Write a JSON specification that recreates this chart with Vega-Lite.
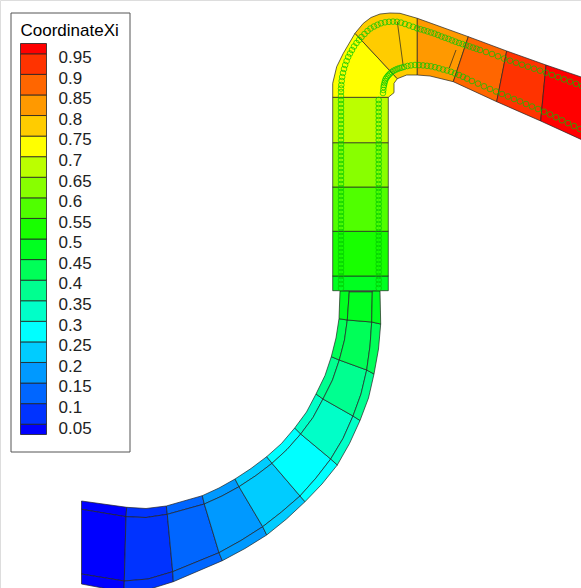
{"$schema":"https://vega.github.io/schema/vega-lite/v6.json","width":581,"height":588,"padding":0,"autosize":{"type":"none"},"background":"white","datasets":{
"cells":[
{"c":"a1","v":0.025,"k":0,"x":81.5,"y":501},{"c":"a1","v":0.025,"k":1,"x":126.7,"y":507.3},{"c":"a1","v":0.025,"k":2,"x":126,"y":516.7},{"c":"a1","v":0.025,"k":3,"x":81.5,"y":509.3},
{"c":"a2","v":0.025,"k":0,"x":81.5,"y":509.3},{"c":"a2","v":0.025,"k":1,"x":126,"y":516.7},{"c":"a2","v":0.025,"k":2,"x":124.3,"y":581},{"c":"a2","v":0.025,"k":3,"x":81.5,"y":574},
{"c":"a3","v":0.025,"k":0,"x":81.5,"y":574},{"c":"a3","v":0.025,"k":1,"x":124.3,"y":581},{"c":"a3","v":0.025,"k":2,"x":124,"y":592},{"c":"a3","v":0.025,"k":3,"x":81.5,"y":584},
{"c":"b1","v":0.075,"k":0,"x":126.7,"y":507.3},{"c":"b1","v":0.075,"k":1,"x":146,"y":508.5},{"c":"b1","v":0.075,"k":2,"x":166.3,"y":506},{"c":"b1","v":0.075,"k":3,"x":167.3,"y":514.3},{"c":"b1","v":0.075,"k":4,"x":146,"y":517.5},{"c":"b1","v":0.075,"k":5,"x":126,"y":516.7},
{"c":"b2","v":0.075,"k":0,"x":126,"y":516.7},{"c":"b2","v":0.075,"k":1,"x":146,"y":517.5},{"c":"b2","v":0.075,"k":2,"x":167.3,"y":514.3},{"c":"b2","v":0.075,"k":3,"x":172.7,"y":571.7},{"c":"b2","v":0.075,"k":4,"x":148,"y":579},{"c":"b2","v":0.075,"k":5,"x":124.3,"y":581},
{"c":"b3","v":0.075,"k":0,"x":124.3,"y":581},{"c":"b3","v":0.075,"k":1,"x":148,"y":579},{"c":"b3","v":0.075,"k":2,"x":172.7,"y":571.7},{"c":"b3","v":0.075,"k":3,"x":173.3,"y":581.7},{"c":"b3","v":0.075,"k":4,"x":150,"y":589},{"c":"b3","v":0.075,"k":5,"x":124,"y":592},
{"c":"c1","v":0.125,"k":0,"x":166.3,"y":506},{"c":"c1","v":0.125,"k":1,"x":202.3,"y":495.7},{"c":"c1","v":0.125,"k":2,"x":204.3,"y":504},{"c":"c1","v":0.125,"k":3,"x":167.3,"y":514.3},
{"c":"c2","v":0.125,"k":0,"x":167.3,"y":514.3},{"c":"c2","v":0.125,"k":1,"x":204.3,"y":504},{"c":"c2","v":0.125,"k":2,"x":219,"y":552.7},{"c":"c2","v":0.125,"k":3,"x":172.7,"y":571.7},
{"c":"c3","v":0.125,"k":0,"x":172.7,"y":571.7},{"c":"c3","v":0.125,"k":1,"x":219,"y":552.7},{"c":"c3","v":0.125,"k":2,"x":222.3,"y":560.7},{"c":"c3","v":0.125,"k":3,"x":173.3,"y":581.7},
{"c":"d1","v":0.175,"k":0,"x":202.3,"y":495.7},{"c":"d1","v":0.175,"k":1,"x":219,"y":488},{"c":"d1","v":0.175,"k":2,"x":235,"y":479},{"c":"d1","v":0.175,"k":3,"x":239,"y":486.7},{"c":"d1","v":0.175,"k":4,"x":222,"y":496},{"c":"d1","v":0.175,"k":5,"x":204.3,"y":504},
{"c":"d2","v":0.175,"k":0,"x":204.3,"y":504},{"c":"d2","v":0.175,"k":1,"x":222,"y":496},{"c":"d2","v":0.175,"k":2,"x":239,"y":486.7},{"c":"d2","v":0.175,"k":3,"x":262.7,"y":526.7},{"c":"d2","v":0.175,"k":4,"x":241,"y":540.5},{"c":"d2","v":0.175,"k":5,"x":219,"y":552.7},
{"c":"d3","v":0.175,"k":0,"x":219,"y":552.7},{"c":"d3","v":0.175,"k":1,"x":241,"y":540.5},{"c":"d3","v":0.175,"k":2,"x":262.7,"y":526.7},{"c":"d3","v":0.175,"k":3,"x":266.7,"y":535},{"c":"d3","v":0.175,"k":4,"x":245,"y":548.5},{"c":"d3","v":0.175,"k":5,"x":222.3,"y":560.7},
{"c":"e1","v":0.225,"k":0,"x":235,"y":479},{"c":"e1","v":0.225,"k":1,"x":251,"y":468.5},{"c":"e1","v":0.225,"k":2,"x":266.7,"y":456.7},{"c":"e1","v":0.225,"k":3,"x":272,"y":463.3},{"c":"e1","v":0.225,"k":4,"x":256,"y":475.5},{"c":"e1","v":0.225,"k":5,"x":239,"y":486.7},
{"c":"e2","v":0.225,"k":0,"x":239,"y":486.7},{"c":"e2","v":0.225,"k":1,"x":256,"y":475.5},{"c":"e2","v":0.225,"k":2,"x":272,"y":463.3},{"c":"e2","v":0.225,"k":3,"x":300,"y":496},{"c":"e2","v":0.225,"k":4,"x":281.5,"y":512},{"c":"e2","v":0.225,"k":5,"x":262.7,"y":526.7},
{"c":"e3","v":0.225,"k":0,"x":262.7,"y":526.7},{"c":"e3","v":0.225,"k":1,"x":281.5,"y":512},{"c":"e3","v":0.225,"k":2,"x":300,"y":496},{"c":"e3","v":0.225,"k":3,"x":305,"y":501.7},{"c":"e3","v":0.225,"k":4,"x":286.5,"y":519},{"c":"e3","v":0.225,"k":5,"x":266.7,"y":535},
{"c":"f1","v":0.275,"k":0,"x":266.7,"y":456.7},{"c":"f1","v":0.275,"k":1,"x":281.5,"y":443.5},{"c":"f1","v":0.275,"k":2,"x":294.7,"y":428},{"c":"f1","v":0.275,"k":3,"x":300.7,"y":434},{"c":"f1","v":0.275,"k":4,"x":287,"y":449.5},{"c":"f1","v":0.275,"k":5,"x":272,"y":463.3},
{"c":"f2","v":0.275,"k":0,"x":272,"y":463.3},{"c":"f2","v":0.275,"k":1,"x":287,"y":449.5},{"c":"f2","v":0.275,"k":2,"x":300.7,"y":434},{"c":"f2","v":0.275,"k":3,"x":330.7,"y":459},{"c":"f2","v":0.275,"k":4,"x":316,"y":478},{"c":"f2","v":0.275,"k":5,"x":300,"y":496},
{"c":"f3","v":0.275,"k":0,"x":300,"y":496},{"c":"f3","v":0.275,"k":1,"x":316,"y":478},{"c":"f3","v":0.275,"k":2,"x":330.7,"y":459},{"c":"f3","v":0.275,"k":3,"x":337.3,"y":465},{"c":"f3","v":0.275,"k":4,"x":322,"y":484},{"c":"f3","v":0.275,"k":5,"x":305,"y":501.7},
{"c":"g1","v":0.325,"k":0,"x":294.7,"y":428},{"c":"g1","v":0.325,"k":1,"x":306.5,"y":412},{"c":"g1","v":0.325,"k":2,"x":316,"y":394},{"c":"g1","v":0.325,"k":3,"x":323,"y":399},{"c":"g1","v":0.325,"k":4,"x":313,"y":417.5},{"c":"g1","v":0.325,"k":5,"x":300.7,"y":434},
{"c":"g2","v":0.325,"k":0,"x":300.7,"y":434},{"c":"g2","v":0.325,"k":1,"x":313,"y":417.5},{"c":"g2","v":0.325,"k":2,"x":323,"y":399},{"c":"g2","v":0.325,"k":3,"x":353,"y":416},{"c":"g2","v":0.325,"k":4,"x":343,"y":438.5},{"c":"g2","v":0.325,"k":5,"x":330.7,"y":459},
{"c":"g3","v":0.325,"k":0,"x":330.7,"y":459},{"c":"g3","v":0.325,"k":1,"x":343,"y":438.5},{"c":"g3","v":0.325,"k":2,"x":353,"y":416},{"c":"g3","v":0.325,"k":3,"x":360,"y":420.5},{"c":"g3","v":0.325,"k":4,"x":349.5,"y":443.5},{"c":"g3","v":0.325,"k":5,"x":337.3,"y":465},
{"c":"h1","v":0.375,"k":0,"x":316,"y":394},{"c":"h1","v":0.375,"k":1,"x":325,"y":375.5},{"c":"h1","v":0.375,"k":2,"x":331.3,"y":356.7},{"c":"h1","v":0.375,"k":3,"x":339.3,"y":360},{"c":"h1","v":0.375,"k":4,"x":332.5,"y":380},{"c":"h1","v":0.375,"k":5,"x":323,"y":399},
{"c":"h2","v":0.375,"k":0,"x":323,"y":399},{"c":"h2","v":0.375,"k":1,"x":332.5,"y":380},{"c":"h2","v":0.375,"k":2,"x":339.3,"y":360},{"c":"h2","v":0.375,"k":3,"x":366.7,"y":370},{"c":"h2","v":0.375,"k":4,"x":361,"y":394},{"c":"h2","v":0.375,"k":5,"x":353,"y":416},
{"c":"h3","v":0.375,"k":0,"x":353,"y":416},{"c":"h3","v":0.375,"k":1,"x":361,"y":394},{"c":"h3","v":0.375,"k":2,"x":366.7,"y":370},{"c":"h3","v":0.375,"k":3,"x":374,"y":374},{"c":"h3","v":0.375,"k":4,"x":368.5,"y":398},{"c":"h3","v":0.375,"k":5,"x":360,"y":420.5},
{"c":"i1","v":0.425,"k":0,"x":331.3,"y":356.7},{"c":"i1","v":0.425,"k":1,"x":336,"y":338},{"c":"i1","v":0.425,"k":2,"x":339,"y":318.7},{"c":"i1","v":0.425,"k":3,"x":347.3,"y":320},{"c":"i1","v":0.425,"k":4,"x":344.5,"y":340},{"c":"i1","v":0.425,"k":5,"x":339.3,"y":360},
{"c":"i2","v":0.425,"k":0,"x":339.3,"y":360},{"c":"i2","v":0.425,"k":1,"x":344.5,"y":340},{"c":"i2","v":0.425,"k":2,"x":347.3,"y":320},{"c":"i2","v":0.425,"k":3,"x":371.7,"y":322},{"c":"i2","v":0.425,"k":4,"x":370,"y":346},{"c":"i2","v":0.425,"k":5,"x":366.7,"y":370},
{"c":"i3","v":0.425,"k":0,"x":366.7,"y":370},{"c":"i3","v":0.425,"k":1,"x":370,"y":346},{"c":"i3","v":0.425,"k":2,"x":371.7,"y":322},{"c":"i3","v":0.425,"k":3,"x":380.7,"y":324},{"c":"i3","v":0.425,"k":4,"x":378.5,"y":349},{"c":"i3","v":0.425,"k":5,"x":374,"y":374},
{"c":"j1","v":0.475,"k":0,"x":339,"y":318.7},{"c":"j1","v":0.475,"k":1,"x":340,"y":291},{"c":"j1","v":0.475,"k":2,"x":349.3,"y":291},{"c":"j1","v":0.475,"k":3,"x":347.3,"y":320},
{"c":"j2","v":0.475,"k":0,"x":347.3,"y":320},{"c":"j2","v":0.475,"k":1,"x":349.3,"y":291.7},{"c":"j2","v":0.475,"k":2,"x":372.3,"y":291.7},{"c":"j2","v":0.475,"k":3,"x":371.7,"y":322},
{"c":"j3","v":0.475,"k":0,"x":371.7,"y":322},{"c":"j3","v":0.475,"k":1,"x":372.3,"y":291},{"c":"j3","v":0.475,"k":2,"x":380,"y":291},{"c":"j3","v":0.475,"k":3,"x":380.7,"y":324},
{"c":"k","v":0.475,"k":0,"x":332.7,"y":276},{"c":"k","v":0.475,"k":1,"x":388.3,"y":276},{"c":"k","v":0.475,"k":2,"x":388.3,"y":290.7},{"c":"k","v":0.475,"k":3,"x":332.7,"y":290.7},
{"c":"l","v":0.525,"k":0,"x":332.7,"y":231.3},{"c":"l","v":0.525,"k":1,"x":388.3,"y":231.3},{"c":"l","v":0.525,"k":2,"x":388.3,"y":276},{"c":"l","v":0.525,"k":3,"x":332.7,"y":276},
{"c":"m","v":0.575,"k":0,"x":332.7,"y":187},{"c":"m","v":0.575,"k":1,"x":388.3,"y":187},{"c":"m","v":0.575,"k":2,"x":388.3,"y":231.3},{"c":"m","v":0.575,"k":3,"x":332.7,"y":231.3},
{"c":"n","v":0.625,"k":0,"x":332.7,"y":142.7},{"c":"n","v":0.625,"k":1,"x":388.3,"y":142.7},{"c":"n","v":0.625,"k":2,"x":388.3,"y":187},{"c":"n","v":0.625,"k":3,"x":332.7,"y":187},
{"c":"o","v":0.675,"k":0,"x":332.7,"y":97.3},{"c":"o","v":0.675,"k":1,"x":388.3,"y":97.3},{"c":"o","v":0.675,"k":2,"x":388.3,"y":142.7},{"c":"o","v":0.675,"k":3,"x":332.7,"y":142.7},
{"c":"p","v":0.725,"k":0,"x":332.7,"y":97.3},{"c":"p","v":0.725,"k":1,"x":332.7,"y":83.3},{"c":"p","v":0.725,"k":2,"x":336.7,"y":66.7},{"c":"p","v":0.725,"k":3,"x":343.3,"y":53.3},{"c":"p","v":0.725,"k":4,"x":355,"y":33.3},{"c":"p","v":0.725,"k":5,"x":397.3,"y":78.7},{"c":"p","v":0.725,"k":6,"x":394,"y":83.3},{"c":"p","v":0.725,"k":7,"x":394,"y":92.7},{"c":"p","v":0.725,"k":8,"x":388.3,"y":97.3},
{"c":"q","v":0.775,"k":0,"x":355,"y":33.3},{"c":"q","v":0.775,"k":1,"x":363.3,"y":23.3},{"c":"q","v":0.775,"k":2,"x":371,"y":17.5},{"c":"q","v":0.775,"k":3,"x":380,"y":14},{"c":"q","v":0.775,"k":4,"x":390,"y":13},{"c":"q","v":0.775,"k":5,"x":400,"y":13.3},{"c":"q","v":0.775,"k":6,"x":417.3,"y":18.3},{"c":"q","v":0.775,"k":7,"x":417.3,"y":75},{"c":"q","v":0.775,"k":8,"x":406.7,"y":75},{"c":"q","v":0.775,"k":9,"x":397.3,"y":78.7},
{"c":"r","v":0.825,"k":0,"x":417.3,"y":18.3},{"c":"r","v":0.825,"k":1,"x":468.3,"y":36.7},{"c":"r","v":0.825,"k":2,"x":453.3,"y":81.7},{"c":"r","v":0.825,"k":3,"x":430,"y":76},{"c":"r","v":0.825,"k":4,"x":417.3,"y":75},
{"c":"s","v":0.875,"k":0,"x":468.3,"y":36.7},{"c":"s","v":0.875,"k":1,"x":506.7,"y":51},{"c":"s","v":0.875,"k":2,"x":496.7,"y":101.7},{"c":"s","v":0.875,"k":3,"x":453.3,"y":81.7},
{"c":"t","v":0.925,"k":0,"x":506.7,"y":51},{"c":"t","v":0.925,"k":1,"x":546,"y":65},{"c":"t","v":0.925,"k":2,"x":540.7,"y":121},{"c":"t","v":0.925,"k":3,"x":496.7,"y":101.7},
{"c":"u","v":0.975,"k":0,"x":546,"y":65},{"c":"u","v":0.975,"k":1,"x":590,"y":80},{"c":"u","v":0.975,"k":2,"x":590,"y":143.5},{"c":"u","v":0.975,"k":3,"x":540.7,"y":121}
],
"mesh":[
{"l":"a","k":0,"x":397.3,"y":21.7},{"l":"a","k":1,"x":403.3,"y":66.7},
{"l":"b","k":0,"x":456,"y":50},{"l":"b","k":1,"x":449.3,"y":68},
{"l":"c","k":0,"x":349.3,"y":291.7},{"l":"c","k":1,"x":372.3,"y":291.7}
],
"rings":[
{"x":341,"y":288},{"x":341,"y":284},{"x":341,"y":280},{"x":341,"y":276},{"x":341,"y":272},{"x":341,"y":268},{"x":341,"y":264},{"x":341,"y":260},{"x":341,"y":256},{"x":341,"y":252},{"x":341,"y":248},{"x":341,"y":244},{"x":341,"y":240},{"x":341,"y":236},{"x":341,"y":232},{"x":341,"y":228},{"x":341,"y":224},{"x":341,"y":220},{"x":341,"y":216},{"x":341,"y":212},{"x":341,"y":208},{"x":341,"y":204},{"x":341,"y":200},{"x":341,"y":196},{"x":341,"y":192},{"x":341,"y":188},{"x":341,"y":184},{"x":341,"y":180},{"x":341,"y":176},{"x":341,"y":172},{"x":341,"y":168},{"x":341,"y":164},{"x":341,"y":160},{"x":341,"y":156},{"x":341,"y":152},{"x":341,"y":148},{"x":341,"y":144},{"x":341,"y":140},{"x":341,"y":136},{"x":341,"y":132},{"x":341,"y":128},{"x":341,"y":124},{"x":341,"y":120},{"x":341,"y":116},{"x":341,"y":112},{"x":341,"y":108},{"x":341,"y":104},{"x":341,"y":100},{"x":341,"y":96},{"x":341,"y":92},{"x":341,"y":88.5},
{"x":341.3,"y":85},{"x":341.7,"y":81},{"x":342.2,"y":77},{"x":343,"y":73},{"x":344,"y":69},{"x":345.2,"y":65},{"x":346.6,"y":61},{"x":348.2,"y":57},{"x":350,"y":53.5},{"x":352,"y":50},{"x":354,"y":46.5},{"x":356.5,"y":43},{"x":359,"y":40},{"x":361.5,"y":37},{"x":364.5,"y":34},{"x":367.5,"y":31},{"x":370.5,"y":28.5},{"x":374,"y":26.5},{"x":377.5,"y":24.8},{"x":381,"y":23.3},{"x":385,"y":22.3},{"x":389,"y":21.8},{"x":393,"y":21.6},{"x":397,"y":21.8},{"x":401,"y":22.6},{"x":405,"y":24},{"x":409,"y":25.4},{"x":413,"y":26.8},
{"x":417,"y":28.3},{"x":420.5,"y":29.3},{"x":424,"y":30.3},{"x":427.5,"y":31.4},{"x":431,"y":32.5},{"x":434.5,"y":33.6},{"x":438,"y":35},{"x":441.5,"y":36.5},{"x":445,"y":37.7},{"x":448.5,"y":38.9},{"x":452,"y":40.4},{"x":455.5,"y":41.7},{"x":459,"y":43},{"x":462.5,"y":44.1},{"x":466,"y":45.2},{"x":469.5,"y":46.4},{"x":473,"y":47.6},{"x":476.5,"y":48.8},
{"x":480,"y":50},{"x":486,"y":52},{"x":492,"y":54},{"x":498,"y":56.3},{"x":504,"y":58.6},{"x":510,"y":60.7},{"x":516,"y":62.7},{"x":522,"y":64.7},{"x":528,"y":66.7},{"x":534,"y":68.7},{"x":540,"y":70.7},{"x":546,"y":72.7},{"x":552,"y":75},{"x":558,"y":77.2},{"x":564,"y":79.4},{"x":570,"y":81.6},{"x":576,"y":83.8},{"x":582,"y":86},
{"x":378.7,"y":288},{"x":378.7,"y":284},{"x":378.7,"y":280},{"x":378.7,"y":276},{"x":378.7,"y":272},{"x":378.7,"y":268},{"x":378.7,"y":264},{"x":378.7,"y":260},{"x":378.7,"y":256},{"x":378.7,"y":252},{"x":378.7,"y":248},{"x":378.7,"y":244},{"x":378.7,"y":240},{"x":378.7,"y":236},{"x":378.7,"y":232},{"x":378.7,"y":228},{"x":378.7,"y":224},{"x":378.7,"y":220},{"x":378.7,"y":216},{"x":378.7,"y":212},{"x":378.7,"y":208},{"x":378.7,"y":204},{"x":378.7,"y":200},{"x":378.7,"y":196},{"x":378.7,"y":192},{"x":378.7,"y":188},{"x":378.7,"y":184},{"x":378.7,"y":180},{"x":378.7,"y":176},{"x":378.7,"y":172},{"x":378.7,"y":168},{"x":378.7,"y":164},{"x":378.7,"y":160},{"x":378.7,"y":156},{"x":378.7,"y":152},{"x":378.7,"y":148},{"x":378.7,"y":144},{"x":378.7,"y":140},{"x":378.7,"y":136},{"x":378.7,"y":132},{"x":378.7,"y":128},{"x":378.7,"y":124},{"x":378.7,"y":120},{"x":378.7,"y":116},{"x":378.7,"y":112},{"x":378.7,"y":108},{"x":378.7,"y":104},{"x":378.7,"y":100},
{"x":383,"y":93},{"x":383.3,"y":90},{"x":383.6,"y":87},{"x":384,"y":85},{"x":384.5,"y":83},{"x":385,"y":81},{"x":385.7,"y":79},{"x":386.7,"y":77.5},{"x":387.8,"y":76},{"x":389,"y":74.7},{"x":390.3,"y":73.4},{"x":391.7,"y":72},{"x":393.5,"y":70.8},{"x":395.5,"y":69.8},{"x":397.5,"y":68.9},{"x":399.5,"y":68.2},{"x":401.7,"y":67.6},{"x":404,"y":66.9},{"x":407.5,"y":66},{"x":411,"y":65.4},{"x":415,"y":65},{"x":419,"y":65.1},{"x":423,"y":65.4},{"x":427,"y":65.8},{"x":431,"y":66.3},{"x":435,"y":67.2},{"x":439,"y":68.3},{"x":443,"y":69.5},{"x":447,"y":70.5},{"x":451,"y":71.8},{"x":455,"y":73.5},{"x":459,"y":75},{"x":463,"y":76.8},{"x":467,"y":78.6},{"x":472,"y":81},{"x":478,"y":83.6},{"x":484,"y":86.3},{"x":490,"y":89},{"x":496,"y":91.5},{"x":502,"y":94},{"x":508,"y":96.5},{"x":514,"y":99},{"x":520,"y":101.4},{"x":526,"y":104},{"x":532,"y":106.5},{"x":538,"y":109},{"x":544,"y":111.7},{"x":550,"y":114.5},{"x":556,"y":117.3},{"x":562,"y":120.3},{"x":568,"y":123.2},{"x":574,"y":126},{"x":580,"y":129}
]},
"layer":[
{"data":{"name":"cells"},"mark":{"type":"line","interpolate":"linear-closed","stroke":"#222222","strokeWidth":0.7,"clip":true},
"encoding":{"x":{"field":"x","type":"quantitative","scale":{"domain":[0,581],"nice":false,"zero":false},"axis":null},"y":{"field":"y","type":"quantitative","scale":{"domain":[588,0],"nice":false,"zero":false},"axis":null},"order":{"field":"k"},"detail":{"field":"c"},
"fill":{"field":"v","type":"quantitative","title":"CoordinateXi","scale":{"type":"threshold","domain":[0.05,0.1,0.15,0.2,0.25,0.3,0.35,0.4,0.45,0.5,0.55,0.6,0.65,0.7,0.75,0.8,0.85,0.9,0.95],"range":["#0000ff","#0033ff","#0066ff","#0099ff","#00ccff","#00ffff","#00ffc8","#00ff90","#00ff58","#00ff20","#18ff00","#50ff00","#88ff00","#bbff00","#ffff00","#ffcc00","#ff9900","#ff6600","#ff3300","#ff0000"]},
"legend":{"type":"gradient","orient":"none","legendX":10.5,"legendY":12.5,"direction":"vertical","gradientLength":391,"gradientThickness":26,"gradientStrokeColor":"#222222","gradientStrokeWidth":0.8,"padding":10,"fillColor":"white","strokeColor":"#555555","titleFont":"Liberation Sans","titleFontSize":17,"titleFontWeight":"normal","titleColor":"black","titlePadding":4,"labelFont":"Liberation Sans","labelFontSize":17,"labelColor":"#222222","labelOverlap":false,"labelFlush":false,"labelOffset":12,"format":"~g","encode":{"gradient":{"update":{"y":{"signal":"391*(1-clamp(datum.perc*20-0.5,0,19)/19)"},"y2":{"signal":"391*(1-clamp(datum.perc2*20-0.5,0,19)/19)"}}},"labels":{"update":{"y":{"signal":"min(391*(1-(datum.perc*20-0.5)/19),394)"},"dy":{"value":4.3}}}}}}}},
{"data":{"name":"mesh"},"mark":{"type":"line","stroke":"#222222","strokeWidth":0.7},"encoding":{"x":{"field":"x","type":"quantitative"},"y":{"field":"y","type":"quantitative"},"order":{"field":"k"},"detail":{"field":"l"}}},
{"data":{"name":"rings"},"mark":{"type":"point","shape":"circle","filled":false,"stroke":"#00c800","strokeWidth":0.7,"size":32,"opacity":1,"clip":true},"encoding":{"x":{"field":"x","type":"quantitative"},"y":{"field":"y","type":"quantitative"}}}
]}
